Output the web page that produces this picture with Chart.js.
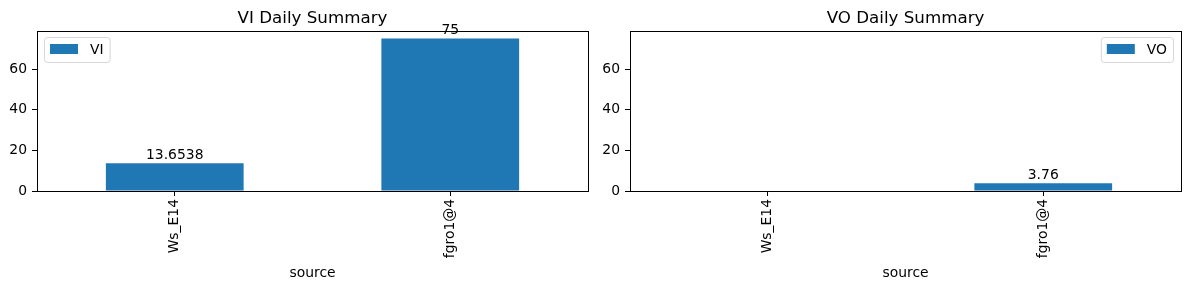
<!DOCTYPE html>
<html>
<head>
<meta charset="utf-8">
<script src="https://cdn.jsdelivr.net/npm/chart.js@4.4.1/dist/chart.umd.min.js"></script>
<style>
  body { margin: 0; background: #fff; }
  .panel { position: absolute; top: 0; height: 290px; }
  #leftBox { left: 0; width: 595px; }
  #rightBox { left: 595px; width: 594px; }
</style>
</head>
<body>
<div class="panel" id="leftBox"><canvas id="viChart"></canvas></div>
<div class="panel" id="rightBox"><canvas id="voChart"></canvas></div>
<script>
const categories = ["Ws_E14", "fgro1@4"];
const viValues = [13.6538, 75];
const voValues = [null, 3.76];
const yTicks = [0, 20, 40, 60];
const yMax = 78.75;

const barColor = "#1f77b4";
const fontFamily = "'DejaVu Sans', sans-serif";

// frame round the plot area, like matplotlib spines
const framePlugin = {
    id: "frame",
    afterDraw(chart) {
        const { ctx, chartArea: a } = chart;
        ctx.save();
        ctx.strokeStyle = "#000";
        ctx.lineWidth = 1;
        ctx.strokeRect(Math.round(a.left) + 0.5, Math.round(a.top) + 0.5,
            Math.round(a.right - a.left), Math.round(a.bottom - a.top));
        ctx.restore();
    }
};

// axes title centred over the plot area (not the whole canvas)
const axesTitlePlugin = {
    id: "axesTitle",
    afterDraw(chart, args, opts) {
        const { ctx, chartArea: a } = chart;
        ctx.save();
        ctx.font = "16.7px " + fontFamily;
        ctx.fillStyle = "#000";
        ctx.textAlign = "center";
        ctx.textBaseline = "alphabetic";
        ctx.fillText(opts.text, (a.left + a.right) / 2, a.top - 8);
        ctx.restore();
    }
};

// value labels on top of the bars
const barLabelPlugin = {
    id: "barLabels",
    afterDatasetsDraw(chart) {
        const { ctx } = chart;
        const ds = chart.data.datasets[0];
        const meta = chart.getDatasetMeta(0);
        ctx.save();
        ctx.font = "13.9px " + fontFamily;
        ctx.fillStyle = "#000";
        ctx.textAlign = "center";
        ctx.textBaseline = "bottom";
        meta.data.forEach((bar, i) => {
            const v = ds.data[i];
            if (v === null || v === undefined) return;
            ctx.fillText(String(v), bar.x, bar.y - 1);
        });
        ctx.restore();
    }
};

// matplotlib style legend box inside the axes
const legendPlugin = {
    id: "mplLegend",
    afterDraw(chart, args, opts) {
        const { ctx, chartArea: a } = chart;
        const label = chart.data.datasets[0].label;
        ctx.save();
        ctx.font = "13.9px " + fontFamily;
        const tw = ctx.measureText(label).width;
        const w = 6 + 28 + 12 + tw + 6;
        const h = 25;
        const x = opts.side === "left" ? a.left + 7 : a.right - 8 - w;
        const y = a.top + 6;
        ctx.beginPath();
        ctx.roundRect(x + 0.5, y + 0.5, w, h, 3);
        ctx.fillStyle = "rgba(255,255,255,0.8)";
        ctx.fill();
        ctx.strokeStyle = "#d6d6d6";
        ctx.lineWidth = 1;
        ctx.stroke();
        ctx.fillStyle = barColor;
        ctx.fillRect(x + 6, y + 7, 28, 10);
        ctx.fillStyle = "#000";
        ctx.textBaseline = "middle";
        ctx.fillText(label, x + 6 + 28 + 12, y + h / 2 + 1);
        ctx.restore();
    }
};

function makeChart(canvasId, title, label, values, yWidth, padRight, side) {
    const ctx = document.getElementById(canvasId).getContext("2d");
    return new Chart(ctx, {
        type: "bar",
        data: {
            labels: categories,
            datasets: [
                {
                    label: label,
                    data: values,
                    backgroundColor: barColor,
                    borderWidth: 0,
                    inflateAmount: 0,
                    categoryPercentage: 0.5,
                    barPercentage: 1
                }
            ]
        },
        options: {
            responsive: true,
            maintainAspectRatio: false,
            animation: false,
            layout: { padding: { left: 0, right: padRight, top: 31, bottom: 0 } },
            plugins: {
                legend: { display: false },
                tooltip: { enabled: false },
                title: { display: false },
                axesTitle: { text: title },
                mplLegend: { side: side }
            },
            scales: {
                x: {
                    grid: { display: true, drawOnChartArea: false, offset: false, tickLength: 5, color: "#000" },
                    border: { display: false },
                    ticks: {
                        color: "#000",
                        font: { family: fontFamily, size: 13.9 },
                        minRotation: 90,
                        maxRotation: 90,
                        autoSkip: false,
                        padding: 3
                    },
                    title: {
                        display: true,
                        text: "source",
                        color: "#000",
                        font: { family: fontFamily, size: 13.9 },
                        padding: { top: 0, bottom: 8 }
                    },
                    afterFit(scale) { scale.height = 99; }
                },
                y: {
                    min: 0,
                    max: yMax,
                    grid: { display: true, drawOnChartArea: false, tickLength: 5, color: "#000" },
                    border: { display: false },
                    ticks: {
                        color: "#000",
                        font: { family: fontFamily, size: 13.9 },
                        padding: 5
                    },
                    afterBuildTicks(scale) { scale.ticks = yTicks.map(v => ({ value: v })); },
                    afterFit(scale) { scale.width = yWidth; }
                }
            }
        },
        plugins: [framePlugin, axesTitlePlugin, barLabelPlugin, legendPlugin]
    });
}

makeChart("viChart", "VI Daily Summary", "VI", viValues, 37, 7, "left");
makeChart("voChart", "VO Daily Summary", "VO", voValues, 35, 8, "right");
</script>
</body>
</html>
